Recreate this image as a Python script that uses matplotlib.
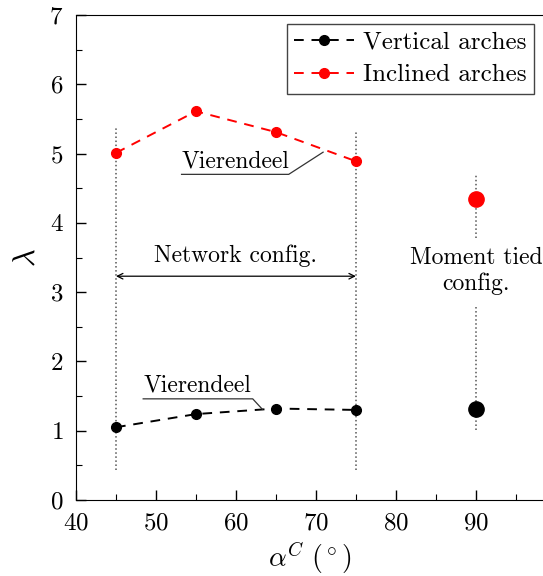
import matplotlib
matplotlib.use("Agg")
import matplotlib.pyplot as plt

plt.rcParams['font.family'] = 'serif'
plt.rcParams['font.serif'] = ['cmr10', 'DejaVu Serif']
plt.rcParams['mathtext.fontset'] = 'cm'
plt.rcParams['axes.formatter.use_mathtext'] = True

# network configurations
alpha_net = [45, 55, 65, 75]
lam_vertical = [1.05, 1.24, 1.32, 1.30]
lam_inclined = [5.01, 5.61, 5.31, 4.89]

# moment tied configuration
alpha_tied = [90]
lam_tied_vertical = [1.32]
lam_tied_inclined = [4.34]

fig = plt.figure(figsize=(5.43, 5.76), dpi=100)
ax = fig.add_axes([76 / 543, 1 - 500 / 576, 1 - 76 / 543, 485 / 576])

# guide lines
ax.plot([45, 45], [0.43, 5.37], ':', color='#555555', lw=1.1)
ax.plot([75, 75], [0.43, 5.31], ':', color='#555555', lw=1.1)
ax.plot([90, 90], [3.78, 4.69], ':', color='#555555', lw=1.1)
ax.plot([90, 90], [1.01, 2.78], ':', color='#555555', lw=1.1)

ax.plot(alpha_net, lam_vertical, '--', color='black', marker='o', ms=7,
        lw=1.4, dashes=(5, 4), label='Vertical arches')
ax.plot(alpha_net, lam_inclined, '--', color='red', marker='o', ms=7,
        lw=1.4, dashes=(5, 4), label='Inclined arches')
ax.plot(alpha_tied, lam_tied_vertical, 'o', color='black', ms=11)
ax.plot(alpha_tied, lam_tied_inclined, 'o', color='red', ms=11)

# annotations
ax.annotate('', xy=(75, 3.23), xytext=(45, 3.23),
            arrowprops=dict(arrowstyle='<->', color='black', lw=0.9,
                            shrinkA=0, shrinkB=0))
ax.text(60, 3.36, 'Network config.', ha='center', va='bottom', fontsize=17)
ax.text(90, 3.30, 'Moment tied\nconfig.', ha='center', va='center',
        fontsize=17, linespacing=1.2)

ax.plot([53.2, 66.6, 70.9], [4.70, 4.70, 5.02], color='#333333', lw=0.9)
ax.text(53.2, 4.73, 'Vierendeel', ha='left', va='bottom', fontsize=17)
ax.plot([48.4, 62.1, 63.3], [1.46, 1.46, 1.31], color='#333333', lw=0.9)
ax.text(48.4, 1.49, 'Vierendeel', ha='left', va='bottom', fontsize=17)

ax.set_xlim(40, 98.4)
ax.set_ylim(0, 7)
ax.set_xticks([40, 50, 60, 70, 80, 90])
ax.set_xticks(range(45, 100, 10), minor=True)
ax.set_yticks(range(0, 8))
ax.set_yticks([i + 0.5 for i in range(7)], minor=True)
ax.tick_params(which='both', direction='in', top=False, right=False,
               labelsize=18)
ax.tick_params(axis='x', which='major', pad=9)
ax.tick_params(axis='y', which='major', pad=9)
ax.tick_params(which='major', length=7, width=1)
ax.tick_params(which='minor', length=4, width=0.8)
ax.spines['right'].set_visible(False)
ax.set_xlabel(r'$\alpha^C\ (^\circ)$', fontsize=20, labelpad=4)
ax.set_ylabel(r'$\lambda$', fontsize=22, labelpad=6)

leg = ax.legend(loc='upper right', fontsize=18, frameon=True, fancybox=False,
                edgecolor='#444444', framealpha=1, handlelength=2.4,
                borderpad=0.3, labelspacing=0.4, handletextpad=0.35,
                borderaxespad=0.35)
leg.get_frame().set_linewidth(1.0)

fig.savefig('out.png', dpi=100)
